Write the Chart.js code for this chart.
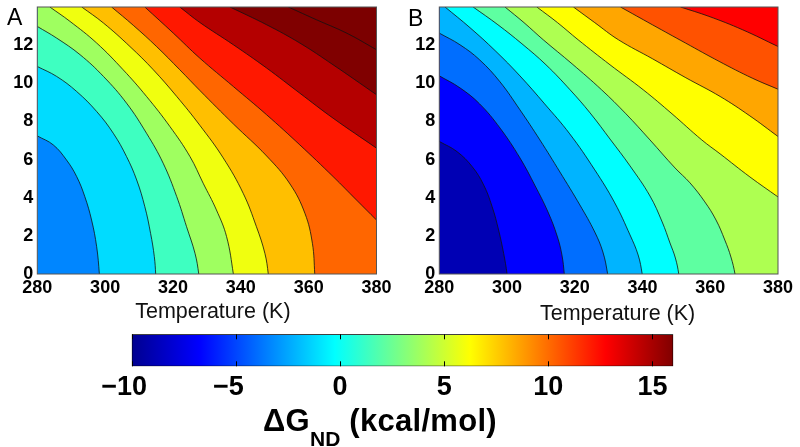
<!DOCTYPE html>
<html>
<head>
<meta charset="utf-8">
<script src="https://cdn.jsdelivr.net/npm/chart.js@4.4.0/dist/chart.umd.min.js"></script>
<style>
  body { margin: 0; background: #fff; width: 800px; height: 447px; position: relative; overflow: hidden;
         font-family: "Liberation Sans", Arial, sans-serif; }
  .box { position: absolute; }
  .tag { position: absolute; font-size: 23px; line-height: 23px; color: #000; }
  #cbTitle { position: absolute; left: 263px; top: 405px; font-size: 31px; line-height: 31px; letter-spacing: 0.3px;
             font-weight: bold; white-space: nowrap; color: #000; }
  #cbTitle sub { font-size: 21px; vertical-align: -15px; letter-spacing: 0; }
</style>
</head>
<body>
<div class="box" style="left:0;top:0;width:405px;height:325px"><canvas id="panelA" width="405" height="325"></canvas></div>
<div class="box" style="left:405px;top:0;width:395px;height:327px"><canvas id="panelB" width="395" height="327"></canvas></div>
<div class="box" style="left:100px;top:326px;width:620px;height:121px"><canvas id="colorbar" width="620" height="121"></canvas></div>
<div class="tag" style="left:7px;top:6px">A</div>
<div class="tag" style="left:408px;top:7px">B</div>
<div id="cbTitle">ΔG<sub>ND</sub> (kcal/mol)</div>

<script>
// ticks
const tempTicks = [280, 300, 320, 340, 360, 380];
const yTicks = [0, 2, 4, 6, 8, 10, 12];
const cbTicks = [-10, -5, 0, 5, 10, 15];
const cbRange = [-10, 16];

// panel A contour lines, [temperature, y] (low -> high)
const A1 = [[280, 7.24], [284.7, 6.77], [288.6, 5.98], [291.6, 5.11], [294.0, 4.06], [296.0, 2.83], [297.5, 1.43], [298.3, 0]];
const A2 = [[280, 10.88], [285.7, 10.36], [291.6, 9.57], [297.5, 8.52], [302.4, 7.38], [306.3, 6.16], [309.3, 4.93], [311.7, 3.53], [313.4, 2.13], [314.5, 0.91], [314.9, 0]];
const A3 = [[280, 12.98], [285.7, 12.37], [292.6, 11.5], [299.5, 10.36], [306.3, 8.96], [312.2, 7.38], [317.1, 5.81], [321.1, 4.06], [324.0, 2.48], [326.5, 1.08], [327.6, 0]];
const A4 = [[283.7, 14], [289.6, 13.25], [297.5, 12.11], [305.3, 10.71], [312.2, 9.31], [319.1, 7.73], [325.0, 6.16], [328.9, 4.76], [332.8, 3.36], [335.8, 1.96], [337.8, 0]];
const A5 = [[293.1, 14], [299.5, 13.16], [307.3, 11.93], [314.2, 10.71], [321.1, 9.31], [327.9, 7.8], [334.8, 6.09], [340.7, 4.23], [344.6, 2.48], [347.1, 1.08], [348.1, 0]];
const A6 = [[301.9, 14], [308.3, 13.04], [315.2, 11.92], [322.0, 10.71], [328.0, 9.61], [337.8, 7.87], [347.6, 6.19], [354.5, 4.72], [358.9, 3.18], [361.1, 1.61], [361.8, 0]];
const A7 = [[311.7, 14], [320.1, 12.63], [327.9, 11.32], [337.8, 9.83], [347.6, 8.35], [357.4, 6.77], [367.2, 5.11], [374.1, 3.88], [380, 2.83]];
const A8 = [[322.0, 14], [327.9, 13.19], [337.8, 12.02], [347.6, 10.8], [357.4, 9.48], [367.2, 8.17], [380, 6.6]];
const A9 = [[336.8, 14], [347.6, 13.07], [357.4, 12.11], [367.2, 10.97], [380, 9.4]];
const A10 = [[354.0, 14], [362.3, 13.33], [371.2, 12.63], [380, 11.76]];

// panel B contour lines
const B1 = [[280, 6.95], [285.2, 6.42], [289.7, 5.63], [293.1, 4.67], [295.6, 3.53], [297.5, 2.31], [299.0, 1.08], [300.0, 0]];
const B2 = [[280, 10.39], [286.1, 9.76], [291.9, 8.92], [297.9, 7.66], [303.8, 6.09], [308.3, 4.62], [312.1, 3.25], [314.8, 1.99], [316.2, 1.0], [316.9, 0]];
const B3 = [[280, 12.63], [286.1, 12.02], [291.9, 11.23], [297.9, 10.08], [303.8, 8.61], [309.7, 7.03], [315.6, 5.35], [321.5, 3.62], [325.9, 2.2], [328.3, 1.15], [329.7, 0]];
const B4 = [[281.7, 14], [289.1, 12.91], [296.5, 11.71], [303.8, 10.39], [311.1, 8.92], [318.5, 7.35], [325.9, 5.46], [331.8, 3.73], [336.3, 2.05], [338.7, 1.0], [339.9, 0]];
const B5 = [[290.0, 14], [297.3, 13.07], [304.4, 12.07], [311.5, 10.97], [318.6, 9.66], [324.5, 8.45], [330.6, 7.03], [336.3, 5.67], [342.2, 4.09], [345.8, 2.73], [348.1, 1.63], [349.7, 0.84], [350.7, 0]];
const B6 = [[299.4, 14], [305.0, 13.18], [310.7, 12.28], [319.2, 11.02], [327.9, 9.66], [335.1, 8.4], [342.2, 7.03], [349.6, 5.56], [354.0, 4.78], [358.4, 3.78], [361.7, 2.83], [364.3, 1.78], [366.1, 0.89], [367.3, 0]];
const B7 = [[308.8, 14], [314.9, 13.18], [321.0, 12.28], [330.4, 10.97], [340.2, 9.66], [348.7, 8.4], [357.5, 7.03], [362.9, 6.3], [371.7, 5.09], [380, 4.04]];
const B8 = [[319.6, 14], [325.9, 13.18], [332.9, 12.28], [342.9, 11.29], [352.8, 10.29], [362.9, 9.31], [371.7, 8.29], [380, 7.21]];
const B9 = [[333.5, 14], [342.9, 13.07], [352.7, 12.11], [362.6, 11.15], [372.4, 10.27], [380, 9.69]];
const B10 = [[351.2, 14], [359.6, 13.51], [369.5, 12.81], [380, 11.93]];

// band colours, lowest band first
const colorsA = ['#0086ff', '#00dcff', '#3effc1', '#9fff60', '#f0ff0f', '#ffbf00', '#ff6600', '#ff1800', '#b40000', '#800000', '#7c0000'];
const colorsB = ['#0000b4', '#0000ff', '#006eff', '#00b4ff', '#00ffff', '#5effa1', '#aeff51', '#ffff00', '#ffa600', '#ff5200', '#ff0000'];

const FONT = '"Liberation Sans", Arial, sans-serif';
Chart.defaults.font.family = FONT;
Chart.defaults.color = '#000';

// paints the lowest band under everything and a frame on top
const plotBox = {
  id: 'plotBox',
  beforeDatasetsDraw(chart, args, opts) {
    const { ctx, chartArea: a } = chart;
    ctx.save();
    ctx.fillStyle = opts.color;
    ctx.fillRect(a.left, a.top, a.width, a.height);
    ctx.restore();
  },
  afterDatasetsDraw(chart) {
    const { ctx, chartArea: a } = chart;
    ctx.save();
    ctx.strokeStyle = '#555';
    ctx.lineWidth = 1;
    ctx.strokeRect(a.left, a.top, a.width, a.height);
    ctx.restore();
  }
};

function makePanel(id, lines, colors, yWidth, padRight, xHeight, title) {
  const datasets = lines.map((pts, k) => {
    const data = pts.map(p => ({ x: p[0], y: p[1] }));
    const end = pts[pts.length - 1];
    // lines that hit the bottom edge: carry the band on to the right edge
    if (end[1] === 0) data.push({ x: end[0], y: -0.3 }, { x: 386, y: -0.3 });
    return {
      data: data,
      fill: 'end',
      backgroundColor: colors[k + 1],
      borderColor: '#111',
      borderWidth: 0.8,
      tension: 0.4,
      pointRadius: 0,
      order: lines.length - k
    };
  });

  return new Chart(document.getElementById(id), {
    type: 'line',
    data: { datasets: datasets },
    plugins: [plotBox],
    options: {
      responsive: false,
      animation: false,
      events: [],
      layout: { padding: { top: 7, right: padRight, left: 0, bottom: 0 } },
      plugins: { legend: { display: false }, tooltip: { enabled: false }, plotBox: { color: colors[0] } },
      scales: {
        x: {
          type: 'linear', min: 280, max: 380,
          afterBuildTicks: axis => { axis.ticks = tempTicks.map(v => ({ value: v })); },
          afterFit: axis => { axis.height = xHeight; axis.paddingLeft = 0; axis.paddingRight = 0; },
          grid: { display: false, drawTicks: false },
          border: { display: false },
          ticks: { font: { size: 18, weight: 'bold' }, padding: 3, maxRotation: 0, autoSkip: false },
          title: { display: true, text: title, color: '#111', font: { size: 21.5 }, padding: 0 }
        },
        y: {
          type: 'linear', min: 0, max: 14,
          afterBuildTicks: axis => { axis.ticks = yTicks.map(v => ({ value: v })); },
          afterFit: axis => { axis.width = yWidth; axis.paddingTop = 0; axis.paddingBottom = 0; },
          grid: { display: false, drawTicks: false },
          border: { display: false },
          ticks: { font: { size: 18, weight: 'bold' }, padding: 4, autoSkip: false }
        }
      }
    }
  });
}

makePanel('panelA', [A1, A2, A3, A4, A5, A6, A7, A8, A9, A10], colorsA, 37.3, 28.5, 51, '\u00a0\u00a0Temperature (K)');
makePanel('panelB', [B1, B2, B3, B4, B5, B6, B7, B8, B9, B10], colorsB, 34.3, 22, 53, '\u00a0\u00a0\u00a0Temperature (K)');

// colour bar
const cbTickMarks = {
  id: 'cbTickMarks',
  afterDatasetsDraw(chart) {
    const { ctx, chartArea: a, scales: { x } } = chart;
    ctx.save();
    ctx.strokeStyle = '#000';
    ctx.lineWidth = 1;
    ctx.beginPath();
    cbTicks.forEach(v => {
      const px = Math.round(x.getPixelForValue(v)) + 0.5;
      ctx.moveTo(px, a.top); ctx.lineTo(px, a.top + 5);
      ctx.moveTo(px, a.bottom); ctx.lineTo(px, a.bottom - 5);
    });
    ctx.stroke();
    ctx.restore();
  }
};

function jetGradient(context) {
  const chart = context.chart;
  if (!chart.chartArea) return '#888';
  const x = chart.scales.x;
  const g = chart.ctx.createLinearGradient(x.getPixelForValue(cbRange[0]), 0, x.getPixelForValue(cbRange[1]), 0);
  g.addColorStop(0, '#00008f');
  g.addColorStop(0.125, '#0000ff');
  g.addColorStop(0.375, '#00ffff');
  g.addColorStop(0.625, '#ffff00');
  g.addColorStop(0.875, '#ff0000');
  g.addColorStop(1, '#800000');
  return g;
}

new Chart(document.getElementById('colorbar'), {
  type: 'bar',
  data: {
    labels: ['dG'],
    datasets: [{
      data: [cbRange],
      backgroundColor: jetGradient,
      borderColor: '#000',
      borderWidth: 1,
      borderSkipped: false,
      barPercentage: 1,
      categoryPercentage: 1
    }]
  },
  plugins: [cbTickMarks],
  options: {
    indexAxis: 'y',
    responsive: false,
    animation: false,
    events: [],
    layout: { padding: { top: 8.3, right: 46.7, left: 31.7, bottom: 0 } },
    plugins: { legend: { display: false }, tooltip: { enabled: false } },
    scales: {
      y: { display: false },
      x: {
        type: 'linear', min: cbRange[0], max: cbRange[1],
        afterBuildTicks: axis => { axis.ticks = cbTicks.map(v => ({ value: v })); },
        afterFit: axis => { axis.height = 80.7; axis.paddingLeft = 0; axis.paddingRight = 0; },
        grid: { display: false, drawTicks: false },
        border: { display: false },
        ticks: {
          font: { size: 27, weight: 'bold' }, padding: 5.5, maxRotation: 0, autoSkip: false,
          callback: v => v < 0 ? '\u2212' + Math.abs(v) + '\u2007' : String(v)
        }
      }
    }
  }
});
</script>
</body>
</html>
